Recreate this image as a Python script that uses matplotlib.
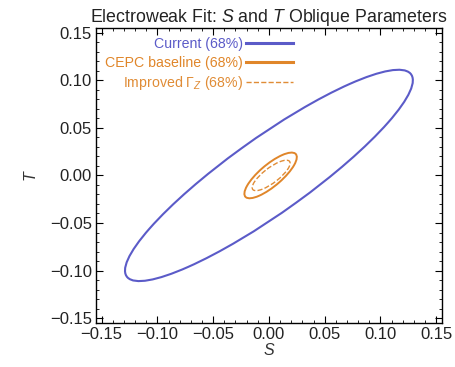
import numpy as np
import matplotlib
matplotlib.use('Agg')
import matplotlib.pyplot as plt
from matplotlib.patches import Ellipse
from matplotlib.lines import Line2D
from matplotlib.ticker import MultipleLocator

plt.rcParams['font.family'] = ['Liberation Sans', 'DejaVu Sans']
plt.rcParams['mathtext.fontset'] = 'custom'
plt.rcParams['mathtext.rm'] = 'Liberation Sans'
plt.rcParams['mathtext.it'] = 'Liberation Sans:italic'

# 68% contours: centre (S, T), half-extents along S and T, correlation
labels = ['Current (68%)', 'CEPC baseline (68%)', r'Improved $\Gamma_Z$ (68%)']
center_s = [0.0, 0.0015, 0.002]
center_t = [0.0, 0.0, 0.0]
extent_s = [0.129, 0.0235, 0.017]
extent_t = [0.111, 0.024, 0.016]
rho = [0.90, 0.80, 0.80]

colors = ['#5b5bc8', '#e0862a', '#e08c36']
styles = ['-', '-', '--']
widths = [1.5, 1.4, 1.0]

ticks = [-0.15, -0.10, -0.05, 0.00, 0.05, 0.10, 0.15]
tick_labels = ['\u22120.15', '\u22120.10', '\u22120.05', '0.00', '0.05', '0.10', '0.15']

fig = plt.figure(figsize=(4.56, 3.67), dpi=100)
ax = fig.add_axes([0.2105, 0.12, 0.7585, 0.804])

handles = []
for i in range(len(labels)):
    cov = np.array([[extent_s[i] ** 2, rho[i] * extent_s[i] * extent_t[i]],
                    [rho[i] * extent_s[i] * extent_t[i], extent_t[i] ** 2]])
    vals, vecs = np.linalg.eigh(cov)
    angle = np.degrees(np.arctan2(vecs[1, 1], vecs[0, 1]))
    e = Ellipse((center_s[i], center_t[i]), 2 * np.sqrt(vals[1]), 2 * np.sqrt(vals[0]),
                angle=angle, fill=False, edgecolor=colors[i], linestyle=styles[i],
                linewidth=widths[i])
    ax.add_patch(e)
    handles.append(Line2D([], [], color=colors[i], linestyle=styles[i],
                          linewidth=2.2 if i < 2 else 1.0))

ax.set_xlim(-0.155, 0.155)
ax.set_ylim(-0.155, 0.155)
ax.set_xticks(ticks)
ax.set_xticklabels(tick_labels)
ax.set_yticks(ticks)
ax.set_yticklabels(tick_labels)
ax.xaxis.set_minor_locator(MultipleLocator(0.01))
ax.yaxis.set_minor_locator(MultipleLocator(0.01))
ax.tick_params(which='both', direction='in', top=True, right=True,
               labelsize=12, colors='black', labelcolor='#222222', pad=3)
ax.tick_params(which='major', length=5, width=0.8)
ax.tick_params(which='minor', length=2.5, width=0.6)
for sp in ax.spines.values():
    sp.set_linewidth(1.0)

ax.set_xlabel(r'$S$', fontsize=11.5, labelpad=0, color='#333333')
ax.set_ylabel(r'$T$', fontsize=11.5, labelpad=8, color='#333333')
ax.set_title(r'Electroweak Fit: $S$ and $T$ Oblique Parameters',
             fontsize=12.8, pad=3, color='#222222')

leg = ax.legend(handles, labels, loc='upper right', bbox_to_anchor=(0.57, 0.968),
                frameon=False, markerfirst=False, fontsize=10.2, handlelength=3.3,
                handletextpad=0.25, labelspacing=0.3, borderpad=0, borderaxespad=0)
for txt, c in zip(leg.get_texts(), colors):
    txt.set_color(c)

fig.savefig('out.png', dpi=100)
